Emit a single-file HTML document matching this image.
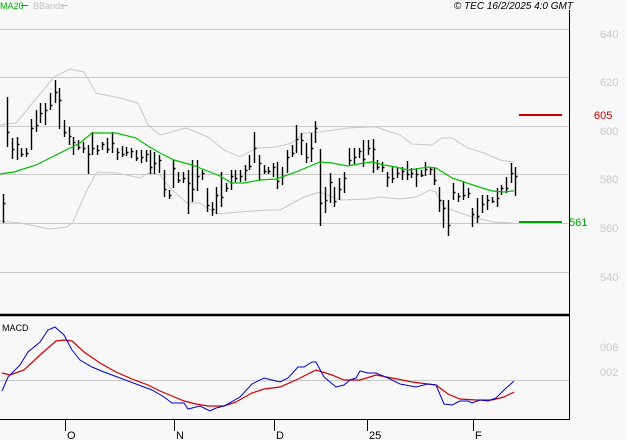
<!DOCTYPE html>
<html><head><meta charset="utf-8"><style>
html,body{margin:0;padding:0;background:#f8f8f8;}
svg{display:block;font-family:"Liberation Sans",sans-serif;}
</style></head><body>
<svg id="s" width="627" height="440" viewBox="0 0 627 440" xmlns="http://www.w3.org/2000/svg">
<rect width="627" height="440" fill="#f8f8f8"/>
<g stroke="#c8c8c8" stroke-width="1">
<line x1="0" y1="29.5" x2="569" y2="29.5"/>
<line x1="0" y1="77.5" x2="569" y2="77.5"/>
<line x1="0" y1="126.5" x2="569" y2="126.5"/>
<line x1="0" y1="174.5" x2="569" y2="174.5"/>
<line x1="0" y1="223.5" x2="569" y2="223.5"/>
<line x1="0" y1="272.5" x2="569" y2="272.5"/>
<line x1="0" y1="380.5" x2="569" y2="380.5"/>
</g>
<g fill="#c8c8c8" font-size="11">
<text x="600" y="38">640</text>
<text x="600" y="86">620</text>
<text x="600" y="135">600</text>
<text x="600" y="183">580</text>
<text x="600" y="232">560</text>
<text x="600" y="281">540</text>
<text x="600" y="351">006</text>
<text x="600" y="376">002</text>
</g>
<polyline fill="none" stroke="#c8c8c8" stroke-width="1" points="0,125 16,123 54,77 70,69 84,72 96,93 120,98 138,103 148,125 160,135 186,128 208,137 224,150 240,157 256,148 276,147 292,143 304,133 320,132 348,128 368,127 376,127 400,135 412,144 432,145 442,138 452,138 468,148 484,153 500,160 514,162"/>
<polyline fill="none" stroke="#c8c8c8" stroke-width="1" points="0,221 20,223 50,229 67,227 73,222 87,190 97,172 117,173 140,178 148,173 160,175 170,188 187,203 200,203 217,214 240,212 267,210 280,210 304,197 320,192 340,200 368,199 380,197 400,199 416,197 430,190 436,192 444,207 460,213 473,217 493,222 513,223"/>
<g id="bars" stroke="#000" stroke-width="1.4" fill="none"></g>
<polyline fill="none" stroke="#00c000" stroke-width="1.2" points="0,174 14,172 36,165 60,153 80,143 92,133 96,133 116,133 136,138 148,146 160,153 174,160 192,165 200,168 220,176 232,183 244,183 260,180 276,179 296,172 320,162 332,163 348,166 364,163 372,162 384,165 396,167 408,170 416,169 428,167 436,168 452,178 476,186 492,191 504,192 512,191 514,191"/>
<line x1="519" y1="115" x2="562" y2="115" stroke="#c80000" stroke-width="2"/>
<text x="594" y="119" fill="#c80000" font-size="11">605</text>
<line x1="519" y1="222" x2="562" y2="222" stroke="#00a000" stroke-width="2"/>
<text x="569" y="226" fill="#00a000" font-size="11">561</text>
<text x="0" y="9" fill="#00b000" font-size="9">MA20</text>
<line x1="21" y1="5.5" x2="28" y2="5.5" stroke="#00b000"/>
<text x="33" y="9" fill="#c0c0c0" font-size="9">BBands</text>
<line x1="61" y1="5.5" x2="68" y2="5.5" stroke="#c0c0c0"/>
<text x="573" y="9" text-anchor="end" fill="#000" font-size="10" font-style="italic">© TEC 16/2/2025 4:0 GMT</text>
<line x1="569.5" y1="10" x2="569.5" y2="420" stroke="#000" stroke-width="1"/>
<line x1="0" y1="315" x2="570" y2="315" stroke="#000" stroke-width="2.5"/>
<line x1="0" y1="419.5" x2="570" y2="419.5" stroke="#000" stroke-width="1"/>
<text x="2" y="331" fill="#000" font-size="9">MACD</text>
<polyline fill="none" stroke="#d00000" stroke-width="1.2" points="2,373 10,375 24,370 40,355 56,341 64,340 72,341 84,352 100,363 116,372 132,379 148,385 160,391 172,396 184,401 196,404 208,406 224,406 236,402 252,393 264,389 280,387 296,380 316,370 332,375 344,380 360,380 376,375 392,378 412,382 436,385 448,394 460,399 476,400 492,400 504,397 514,392"/>
<polyline fill="none" stroke="#0000d0" stroke-width="1" points="2,391 8,377 20,365 28,352 40,342 48,330 55,327 64,335 72,350 80,360 92,367 104,372 120,378 136,384 152,390 164,397 172,403 184,403 188,409 200,406 204,408 210,411 216,408 224,406 240,397 252,384 264,378 272,380 280,382 288,378 298,367 304,367 312,362 316,362 324,377 336,387 344,385 350,380 356,378 360,371 368,373 376,373 388,378 400,384 416,387 428,384 436,385 444,404 452,405 460,401 468,401 472,403 480,400 488,401 496,398 504,390 514,381"/>
<g stroke="#000" stroke-width="1">
<line x1="65.5" y1="419" x2="65.5" y2="431"/>
<line x1="174.5" y1="419" x2="174.5" y2="431"/>
<line x1="274.5" y1="419" x2="274.5" y2="431"/>
<line x1="367.5" y1="419" x2="367.5" y2="431"/>
<line x1="473.5" y1="419" x2="473.5" y2="431"/>
</g>
<g fill="#000" font-size="11">
<text x="67" y="439">O</text>
<text x="176" y="439">N</text>
<text x="276" y="439">D</text>
<text x="369" y="439">25</text>
<text x="475" y="439">F</text>
</g>
</svg>
<script>
var b=[[3,194,223],[7,97,147],[12,138,159],[17,137,160],[21,148,157],[26,148,157],[31,119,150],[36,110,132],[40,103,123],[45,103,125],[50,93,110],[55,80,103],[59,88,129],[64,120,137],[69,127,145],[73,137,155],[78,140,150],[83,142,153],[88,145,174],[92,132,155],[97,145,155],[102,142,150],[107,138,153],[112,132,153],[117,148,160],[122,146,157],[126,147,156],[131,148,158],[136,150,161],[141,150,163],[146,150,162],[150,150,174],[154,152,174],[159,155,173],[164,170,197],[169,190,199],[173,160,188],[178,172,183],[183,172,183],[188,170,214],[192,160,202],[197,160,191],[202,170,180],[207,188,212],[212,202,216],[216,187,214],[221,172,207],[226,183,192],[231,170,190],[235,170,182],[240,170,182],[245,165,181],[249,155,170],[254,132,163],[259,155,180],[264,165,174],[268,167,174],[273,163,177],[277,162,189],[282,167,185],[287,150,173],[292,145,157],[296,125,153],[301,133,155],[306,143,163],[311,133,162],[315,121,143],[320,149,226],[325,187,213],[330,173,203],[334,187,207],[339,178,200],[344,172,193],[349,148,165],[354,148,165],[359,148,158],[363,140,167],[368,140,155],[373,139,173],[377,160,170],[382,162,172],[387,172,187],[392,167,183],[397,167,178],[402,167,180],[407,161,180],[411,168,178],[416,168,187],[421,170,177],[425,162,176],[430,167,175],[434,168,185],[439,187,212],[443,200,228],[448,200,236],[453,183,200],[458,193,202],[463,182,200],[468,188,198],[472,208,227],[477,198,223],[482,195,213],[487,195,210],[492,197,203],[497,188,207],[501,185,195],[506,177,193],[511,163,183],[515,167,196]];
var d="";b.forEach(function(v,i){var x=v[0]+0.5,c=Math.round(v[1]+(v[2]-v[1])*(i%3==0?0.3:(i%3==1?0.7:0.5)));d+="M"+x+" "+v[1]+"V"+v[2]+"M"+x+" "+(c+0.5)+"H"+(x+2);});
var p=document.createElementNS("http://www.w3.org/2000/svg","path");p.setAttribute("d",d);document.getElementById("bars").appendChild(p);
</script>
</body></html>
